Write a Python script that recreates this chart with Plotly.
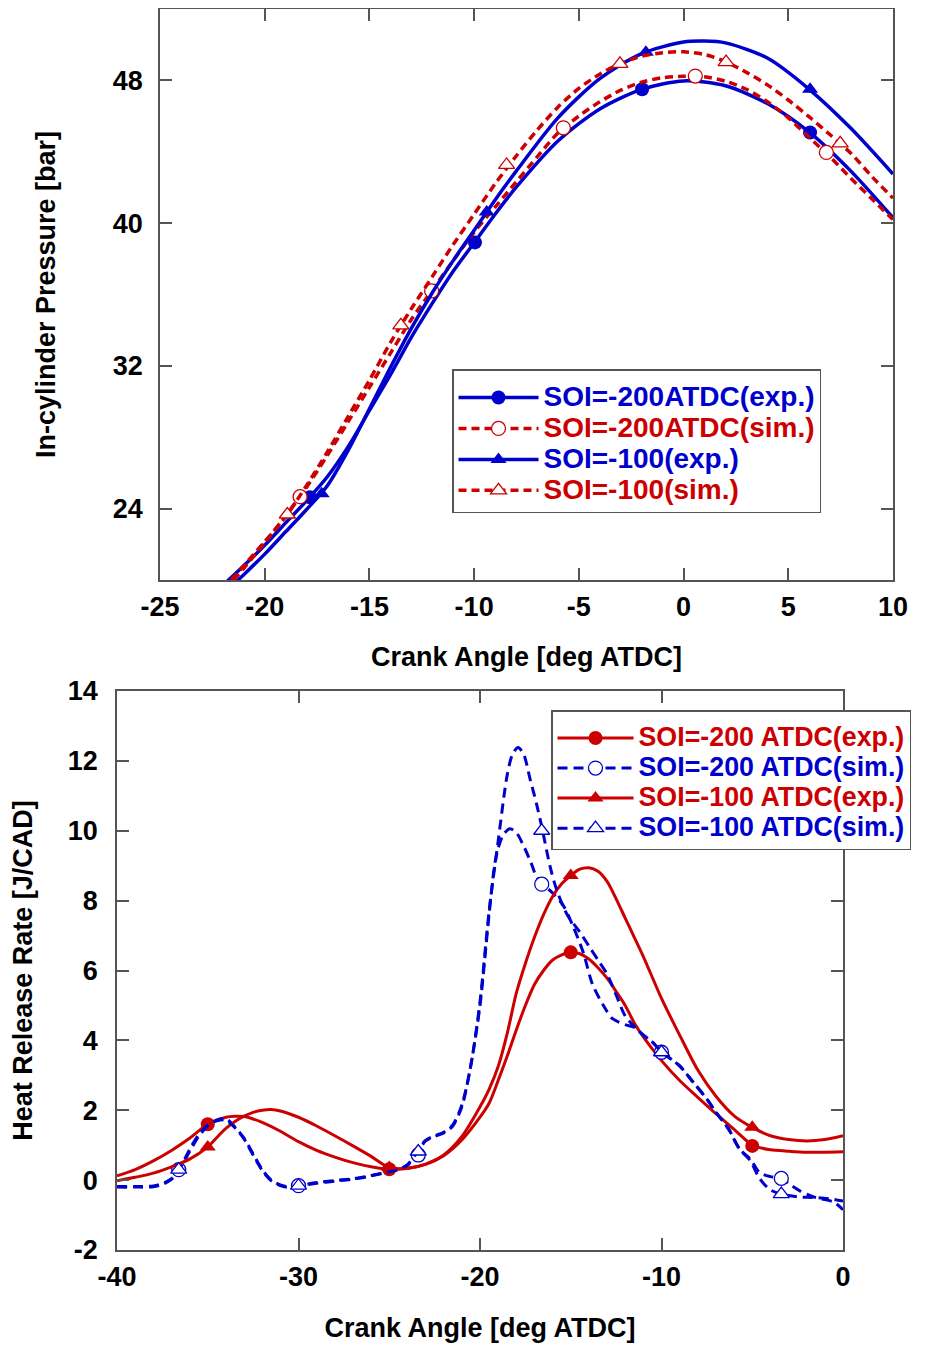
import plotly.graph_objects as go

# ---------------- Data: in-cylinder pressure (top panel) ----------------
P200E_X = [-22, -21, -20, -19, -18, -17, -16, -15, -14, -13, -12, -11, -10, -9, -8, -6, -4, -2, 0, 2, 4, 6, 8, 10]
P200E_Y = [19.7, 20.8, 21.95, 23.2, 24.45, 25.8, 27.5, 29.5, 31.5, 33.6, 35.5, 37.3, 38.9, 40.5, 42.0, 44.6, 46.4, 47.5, 47.97, 47.7, 46.7, 45.1, 42.9, 40.3]

P100E_X = [-21.5, -21, -20, -19, -18, -17, -16, -15, -14, -13, -12, -11, -10, -9, -8, -6, -4, -2, 0, 1, 2, 4, 6, 8, 10]
P100E_Y = [19.75, 20.3, 21.45, 22.7, 23.95, 25.3, 27.3, 29.6, 31.9, 34.1, 36.1, 37.9, 39.6, 41.3, 42.9, 45.9, 48.1, 49.5, 50.15, 50.2, 50.1, 49.25, 47.5, 45.3, 42.75]

P200S_X = [-21.5, -21, -20, -19, -18, -17, -16, -15, -14, -13, -12, -11, -10, -9, -8, -7, -6, -5, -4, -3, -2, -1, 0, 1, 2, 3, 4, 5, 6, 7, 8, 9, 10]
P200S_Y = [20.0, 20.65, 22.1, 23.6, 25.2, 27.0, 28.9, 30.8, 32.7, 34.6, 36.25, 37.9, 39.5, 40.9, 42.3, 43.7, 45.05, 46.0, 46.8, 47.45, 47.9, 48.15, 48.23, 48.2, 47.95, 47.5, 46.8, 45.9, 44.8, 43.7, 42.5, 41.35, 40.2]

P100S_X = [-21.6, -21, -20, -19, -18, -17, -16, -15, -14, -13, -12, -11, -10, -9, -8, -7, -6, -5, -4, -3, -2, -1, 0, 1, 2, 3, 4, 5, 6, 7, 8, 9, 10]
P100S_Y = [20.0, 20.8, 22.15, 23.55, 25.3, 27.2, 29.2, 31.2, 33.3, 35.2, 37.0, 38.8, 40.5, 42.2, 43.75, 45.2, 46.5, 47.55, 48.35, 48.95, 49.35, 49.55, 49.6, 49.45, 49.05, 48.45, 47.75, 46.9, 45.95, 44.95, 43.9, 42.6, 41.4]

# marker positions (top panel)
P200E_MX = [-17.84, -9.96, -1.98, 6.04]
P200E_MY = [24.64, 38.92, 47.5, 45.08]
P100E_MX = [-17.28, -9.4, -1.8, 6.04]
P100E_MY = [24.83, 40.63, 49.58, 47.5]
P200S_MX = [-18.31, -12.03, -5.74, 0.56, 6.82]
P200S_MY = [24.67, 36.2, 45.34, 48.24, 43.96]
P100S_MX = [-18.92, -13.5, -8.45, -3.04, 2.03, 7.48]
P100S_MY = [23.67, 34.27, 43.26, 48.93, 49.02, 44.47]

P_XTICKS = [-25, -20, -15, -10, -5, 0, 5, 10]
P_XTICKTEXT = ["-25", "-20", "-15", "-10", "-5", "0", "5", "10"]
P_YTICKS = [24, 32, 40, 48]

# ---------------- Data: heat release rate (bottom panel) ----------------
H200E_X = [-40, -39, -38, -37, -36, -35, -34, -33.5, -33, -32.5, -32, -31, -30, -29, -28, -27, -26, -25, -24, -23, -22, -21, -20, -19.5, -19, -18.5, -18, -17.5, -17, -16.5, -16, -15.5, -15, -14.5, -14, -13.5, -13, -12.5, -12, -11.5, -11, -10.5, -10, -9, -8, -7, -6, -5, -4.5, -4, -3, -2, -1, 0]
H200E_Y = [0.12, 0.3, 0.55, 0.85, 1.2, 1.6, 1.8, 1.83, 1.82, 1.75, 1.65, 1.4, 1.1, 0.85, 0.66, 0.5, 0.38, 0.31, 0.33, 0.45, 0.7, 1.15, 1.8, 2.2, 2.85, 3.55, 4.3, 5.0, 5.6, 6.0, 6.3, 6.45, 6.52, 6.48, 6.33, 6.08, 5.78, 5.4, 5.0, 4.5, 4.1, 3.75, 3.42, 2.85, 2.37, 1.9, 1.45, 1.0, 0.92, 0.87, 0.83, 0.8, 0.8, 0.81]

H100E_X = [-40, -39, -38, -37, -36, -35, -34.5, -34, -33.5, -33, -32.5, -32, -31.5, -31, -30, -29, -28, -27, -26, -25, -24, -23, -22, -21, -20, -19.5, -19, -18.5, -18, -17.5, -17, -16.5, -16, -15.5, -15, -14.5, -14, -13.5, -13, -12.5, -12, -11.5, -11, -10, -9, -8, -7, -6, -5, -4, -3, -2, -1, 0]
H100E_Y = [-0.02, 0.08, 0.2, 0.38, 0.6, 0.95, 1.22, 1.48, 1.68, 1.83, 1.94, 2.0, 2.02, 1.98, 1.8, 1.55, 1.27, 0.98, 0.68, 0.36, 0.34, 0.46, 0.72, 1.25, 2.1, 2.6, 3.25, 4.2, 5.35, 6.2, 6.95, 7.6, 8.12, 8.48, 8.72, 8.9, 8.94, 8.84, 8.55, 8.05, 7.5, 6.95, 6.4, 5.2, 4.15, 3.15, 2.4, 1.84, 1.51, 1.27, 1.16, 1.12, 1.16, 1.27]

H200S_X = [-40, -39, -38, -37.5, -37, -36.5, -36, -35.5, -35, -34.5, -34, -33.5, -33, -32.5, -32, -31.5, -31, -30.5, -30, -29, -28, -27, -26, -25, -24.5, -24, -23.5, -23, -22.5, -22, -21.5, -21, -20.5, -20, -19.5, -19.2, -19, -18.7, -18.35, -18, -17.6, -17.2, -16.9, -16.5, -16, -15.4, -14.9, -14.3, -13.8, -13.2, -12.7, -12, -11.5, -11, -10.5, -10, -9, -8.25, -7.5, -7, -6.3, -5.7, -5.1, -4.6, -4, -3.4, -3, -2.4, -1.5, -0.5, 0]
H200S_Y = [-0.2, -0.2, -0.19, -0.12, 0.02, 0.35, 0.82, 1.25, 1.55, 1.72, 1.76, 1.52, 1.2, 0.75, 0.3, 0.0, -0.14, -0.2, -0.16, -0.07, -0.01, 0.04, 0.13, 0.25, 0.3, 0.42, 0.74, 1.12, 1.25, 1.35, 1.55, 2.1, 3.3, 5.0, 7.6, 9.0, 9.5, 9.9, 10.06, 9.95, 9.57, 9.1, 8.7, 8.45, 8.22, 7.85, 7.3, 6.5, 5.6, 5.0, 4.62, 4.45, 4.37, 4.15, 3.95, 3.67, 3.27, 2.8, 2.32, 1.94, 1.46, 0.89, 0.6, 0.22, 0.1, 0.05, -0.1, -0.3, -0.5, -0.63, -0.85]

H100S_X = [-40, -39, -38, -37.5, -37, -36.5, -36, -35.5, -35, -34.5, -34, -33.5, -33, -32.5, -32, -31.5, -31, -30.5, -30, -29, -28, -27, -26, -25, -24.5, -24, -23.5, -23, -22.5, -22, -21.5, -21, -20.5, -20, -19.5, -19, -18.5, -18.2, -17.9, -17.6, -17.25, -16.9, -16.55, -16.15, -15.8, -15.2, -14.5, -14, -13.5, -13, -12.5, -12, -11.5, -11, -10.5, -10, -9, -8.25, -7.5, -7, -6.3, -5.7, -5.1, -4.6, -4, -3.4, -2.5, -1.5, -0.5, 0]
H100S_Y = [-0.18, -0.18, -0.17, -0.1, 0.04, 0.38, 0.88, 1.3, 1.58, 1.7, 1.72, 1.5, 1.18, 0.72, 0.28, -0.02, -0.16, -0.21, -0.17, -0.09, -0.03, 0.03, 0.12, 0.24, 0.3, 0.44, 0.77, 1.14, 1.27, 1.37, 1.58, 2.15, 3.3, 5.1, 7.7, 9.7, 11.6, 12.2, 12.38, 12.2, 11.5, 10.8, 10.0, 9.0, 8.35, 7.6, 7.1, 6.7, 6.3, 5.9, 5.3, 4.7, 4.4, 4.15, 3.95, 3.67, 3.27, 2.8, 2.32, 1.94, 1.46, 0.89, 0.55, 0.05, -0.28, -0.4, -0.48, -0.5, -0.55, -0.6]

# marker positions (bottom panel)
H200E_MX = [-35, -25, -15, -5]
H200E_MY = [1.6, 0.31, 6.52, 0.98]
H100E_MX = [-35, -25, -15, -5]
H100E_MY = [0.95, 0.36, 8.72, 1.51]
H200S_MX = [-36.6, -30, -23.4, -16.6, -10, -3.4]
H200S_MY = [0.3, -0.16, 0.72, 8.47, 3.66, 0.05]
H100S_MX = [-36.6, -30, -23.4, -16.6, -10, -3.4]
H100S_MY = [0.3, -0.16, 0.82, 10.0, 3.66, -0.4]

H_XTICKS = [-40, -30, -20, -10, 0]
H_XTICKTEXT = ["-40", "-30", "-20", "-10", "0"]
H_YTICKS = [-2, 0, 2, 4, 6, 8, 10, 12, 14]
H_YTICKTEXT = ["-2", "0", "2", "4", "6", "8", "10", "12", "14"]

TOP_NAMES = ["SOI=-200ATDC(exp.)", "SOI=-200ATDC(sim.)", "SOI=-100(exp.)", "SOI=-100(sim.)"]
BOT_NAMES = ["SOI=-200 ATDC(exp.)", "SOI=-200 ATDC(sim.)", "SOI=-100 ATDC(exp.)", "SOI=-100 ATDC(sim.)"]

BLUE = "#0000cc"
RED = "#cc0000"
FONT = "Liberation Sans, Arial, Helvetica, sans-serif"

TOP_DASH = "8px,5px"
BOT_DASH = "10px,6px"

fig = go.Figure()


def add_series(x, y, mx, my, color, dash, width, symbol, filled, name, xa, ya, legend, txt_px):
    fig.add_trace(go.Scatter(
        x=x, y=y, mode="lines", xaxis=xa, yaxis=ya, showlegend=False,
        line=dict(color=color, width=width, dash=dash, shape="spline", smoothing=0.8),
        hoverinfo="skip"))
    mk = dict(symbol=symbol, size=14,
              color=color if filled else "white",
              line=dict(color=color, width=0 if filled else 1.3))
    fig.add_trace(go.Scatter(
        x=mx, y=my, mode="markers", xaxis=xa, yaxis=ya, showlegend=False,
        marker=mk, hoverinfo="skip"))
    fig.add_trace(go.Scatter(
        x=[None], y=[None], mode="lines+markers", xaxis=xa, yaxis=ya,
        legend=legend,
        name='<span style="color:%s;font-size:%spx">%s</span>' % (color, txt_px, name),
        line=dict(color=color, width=width, dash=dash), marker=mk))


# top panel: blue exp solid, red sim dashed
add_series(P200E_X, P200E_Y, P200E_MX, P200E_MY, BLUE, "solid", 3.5, "circle", True, TOP_NAMES[0], "x", "y", "legend", 28)
add_series(P200S_X, P200S_Y, P200S_MX, P200S_MY, RED, TOP_DASH, 3.5, "circle", False, TOP_NAMES[1], "x", "y", "legend", 28)
add_series(P100E_X, P100E_Y, P100E_MX, P100E_MY, BLUE, "solid", 3.5, "triangle-up", True, TOP_NAMES[2], "x", "y", "legend", 28)
add_series(P100S_X, P100S_Y, P100S_MX, P100S_MY, RED, TOP_DASH, 3.5, "triangle-up", False, TOP_NAMES[3], "x", "y", "legend", 28)

# bottom panel: red exp solid, blue sim dashed
add_series(H200E_X, H200E_Y, H200E_MX, H200E_MY, RED, "solid", 3, "circle", True, BOT_NAMES[0], "x2", "y2", "legend2", 26.8)
add_series(H200S_X, H200S_Y, H200S_MX, H200S_MY, BLUE, BOT_DASH, 3, "circle", False, BOT_NAMES[1], "x2", "y2", "legend2", 26.8)
add_series(H100E_X, H100E_Y, H100E_MX, H100E_MY, RED, "solid", 3, "triangle-up", True, BOT_NAMES[2], "x2", "y2", "legend2", 26.8)
add_series(H100S_X, H100S_Y, H100S_MX, H100S_MY, BLUE, BOT_DASH, 3, "triangle-up", False, BOT_NAMES[3], "x2", "y2", "legend2", 26.8)

# the page body has an 8px margin on every side: size the figure so the page fits the window
OFF = 8
W, H = 926 - 2 * OFF, 1351 - 2 * OFF


def fx(px):
    return (px - OFF) / W


def fy(py):
    return 1 - (py - OFF) / H


tickfont = dict(family=FONT, size=27, color="black", weight="bold")
titlefont = dict(family=FONT, size=27, color="black", weight="bold")
axis_common = dict(showline=True, mirror="ticks", linecolor="#555555", linewidth=1.5,
                   ticks="inside", ticklen=12, tickwidth=1.5, tickcolor="#555555",
                   showgrid=False, zeroline=False, tickfont=tickfont, automargin=False,
                   tickmode="array")

legend_common = dict(bgcolor="white", bordercolor="#555555", borderwidth=1.5,
                     title=dict(text=" ", font=dict(size=5)),
                     xanchor="left", yanchor="top", tracegroupgap=0)

fig.update_layout(
    template="none",
    width=W, height=H,
    margin=dict(l=0, r=0, t=0, b=0, pad=0),
    paper_bgcolor="white", plot_bgcolor="white",
    font=dict(family=FONT, color="black"),
    xaxis=dict(domain=[fx(160), fx(893)], anchor="y", range=[-25, 10],
               tickvals=P_XTICKS, ticktext=P_XTICKTEXT, ticklabelstandoff=2,
               title=dict(text="Crank Angle [deg ATDC]", font=titlefont, standoff=26),
               **axis_common),
    yaxis=dict(domain=[fy(580), fy(9)], anchor="x", range=[20, 52],
               tickvals=P_YTICKS, ticktext=[str(v) for v in P_YTICKS], ticklabelstandoff=10,
               title=dict(text="In-cylinder Pressure [bar]", font=titlefont, standoff=49),
               **axis_common),
    xaxis2=dict(domain=[fx(117), fx(843)], anchor="y2", range=[-40, 0],
                tickvals=H_XTICKS, ticktext=H_XTICKTEXT, ticklabelstandoff=2,
                title=dict(text="Crank Angle [deg ATDC]", font=titlefont, standoff=30),
                **axis_common),
    yaxis2=dict(domain=[fy(1250), fy(691)], anchor="x2", range=[-2, 14],
                tickvals=H_YTICKS, ticktext=H_YTICKTEXT, ticklabelstandoff=12,
                title=dict(text="Heat Release Rate [J/CAD]", font=titlefont, standoff=28),
                **axis_common),
    legend=dict(x=fx(452), y=fy(369), font=dict(family=FONT, size=21.5, weight="bold"),
                itemwidth=80, **legend_common),
    legend2=dict(x=fx(551), y=fy(710), font=dict(family=FONT, size=20.8, weight="bold"),
                 itemwidth=76, **legend_common),
)

fig.write_html("out.html")
